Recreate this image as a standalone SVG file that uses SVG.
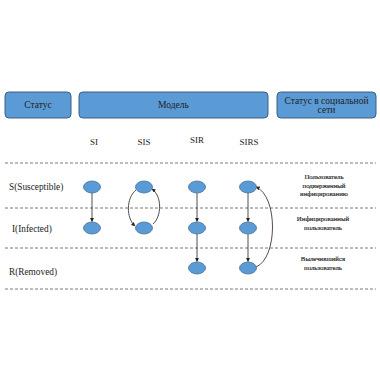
<svg xmlns="http://www.w3.org/2000/svg" width="380" height="380" viewBox="0 0 380 380">
<defs>
<style>
.hdr{fill:#5b9bd5;stroke:#3a5f80;stroke-width:1}
.t{font-family:"Liberation Serif","DejaVu Serif",serif;fill:#222}
.h{font-size:9.5px;text-anchor:middle}
.m{font-size:9px;text-anchor:middle}
.r{font-size:9.3px}
.s{font-size:6.8px;text-anchor:middle;fill:#222;stroke:#222;stroke-width:0.15}
.dash{stroke:#555;stroke-width:0.8;stroke-dasharray:3,2}
.node{fill:#5b9bd5;stroke:#41719c;stroke-width:0.8}
.edge{fill:none;stroke:#222;stroke-width:0.8;marker-end:url(#ah)}
</style>
<marker id="ah" viewBox="0 0 10 10" refX="9" refY="5" markerWidth="5" markerHeight="5" orient="auto"><path d="M0,0 L10,5 L0,10 z" fill="#222"/></marker>
</defs>
<rect width="380" height="380" fill="#fff"/>
<g id="header-status"><rect class="hdr" x="5" y="92" width="66" height="26" rx="4"/><text class="t h" x="38" y="108">Статус</text></g>
<g id="header-model"><rect class="hdr" x="79" y="92" width="189" height="26" rx="4"/><text class="t h" x="173.5" y="108">Модель</text></g>
<g id="header-social"><rect class="hdr" x="277" y="92" width="99" height="26" rx="4"/><text class="t h" x="326.5" y="103.5">Статус в социальной</text><text class="t h" x="326.5" y="112.5">сети</text></g>
<g id="model-labels"><text class="t m" x="94" y="145">SI</text><text class="t m" x="144" y="145">SIS</text><text class="t m" x="197" y="143">SIR</text><text class="t m" x="249" y="145">SIRS</text></g>
<g id="lines"><line class="dash" x1="5" y1="163" x2="376" y2="163"/><line class="dash" x1="5" y1="208" x2="376" y2="208"/><line class="dash" x1="5" y1="248" x2="376" y2="248"/><line class="dash" x1="5" y1="289" x2="376" y2="289"/></g>
<g id="row-labels"><text class="t r" x="9" y="190">S(Susceptible)</text><text class="t r" x="12" y="232">I(Infected)</text><text class="t r" x="9" y="275">R(Removed)</text></g>
<g id="status-labels"><text class="t s" x="324" y="179">Пользователь</text><text class="t s" x="324" y="187.5">подверженный</text><text class="t s" x="324" y="196">инфицированию</text><text class="t s" x="323" y="221">Инфицированный</text><text class="t s" x="323" y="230">пользователь</text><text class="t s" x="323" y="261">Вылечившийся</text><text class="t s" x="323" y="270">пользователь</text></g>
<g id="connectors">
<line class="edge" x1="92" y1="193" x2="92" y2="221.5"/>
<path class="edge" d="M136,190 C126,198 126,218 135,226"/>
<path class="edge" d="M153,224 C162,216 162,196 152,189"/>
<line class="edge" x1="197" y1="193" x2="197" y2="221.5"/>
<line class="edge" x1="197" y1="234" x2="197" y2="261.5"/>
<line class="edge" x1="248" y1="193" x2="248" y2="221.5"/>
<line class="edge" x1="248" y1="234" x2="248" y2="261.5"/>
<path class="edge" d="M256,267 C278,258 278,196 256,187"/>
</g>
<g id="node-si-s"><ellipse class="node" cx="92" cy="187" rx="8.5" ry="6"/></g>
<g id="node-si-i"><ellipse class="node" cx="92" cy="228" rx="8.5" ry="6"/></g>
<g id="node-sis-s"><ellipse class="node" cx="144" cy="187" rx="8.5" ry="6"/></g>
<g id="node-sis-i"><ellipse class="node" cx="144" cy="228" rx="8.5" ry="6"/></g>
<g id="node-sir-s"><ellipse class="node" cx="197" cy="187" rx="8.5" ry="6"/></g>
<g id="node-sir-i"><ellipse class="node" cx="197" cy="228" rx="8.5" ry="6"/></g>
<g id="node-sir-r"><ellipse class="node" cx="197" cy="268" rx="8.5" ry="6"/></g>
<g id="node-sirs-s"><ellipse class="node" cx="248" cy="187" rx="8.5" ry="6"/></g>
<g id="node-sirs-i"><ellipse class="node" cx="248" cy="228" rx="8.5" ry="6"/></g>
<g id="node-sirs-r"><ellipse class="node" cx="248" cy="268" rx="8.5" ry="6"/></g>
</svg>
